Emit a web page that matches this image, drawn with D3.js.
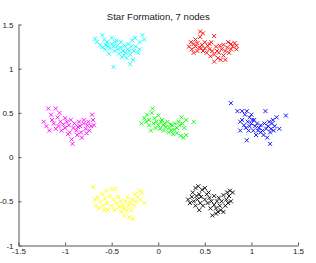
<!DOCTYPE html>
<html>
<head>
<meta charset="utf-8">
<script src="https://cdn.jsdelivr.net/npm/d3@7"></script>
<style>
  body { margin: 0; background: #fff; }
  svg text { font-family: "Liberation Sans", Arial, sans-serif; fill: #222; }
  .axis path, .axis line { stroke: #555; }
</style>
</head>
<body>
<svg id="chart"></svg>
<script>
const width = 316,
    height = 263;

const margin = {top: 24.5, right: 18, bottom: 17.5, left: 18.5}

const title = "Star Formation, 7 nodes";

const xTicks = [-1.5, -1, -0.5, 0, 0.5, 1, 1.5],
    xTickLabels = ["-1.5", "-1", "-0.5", "0", "0.5", "1", "1.5"];
const yTicks = [-1, -0.5, 0, 0.5, 1, 1.5],
    yTickLabels = ["-1", "-0.5", "0", "0.5", "1", "1.5"];

const nodeColors = ["#00ffff", "#ff0000", "#ff00ff", "#00ff00", "#0000ff", "#ffff00", "#000000"];

// points, one array per node
const cyanNode = [[-0.68,1.34],[-0.66,1.3],[-0.6,1.38],[-0.58,1.33],[-0.62,1.27],[-0.6,1.24],[-0.57,1.22],[-0.55,1.3],[-0.54,1.26],[-0.52,1.23],[-0.5,1.28],[-0.5,1.35],[-0.48,1.25],[-0.47,1.2],[-0.46,1.3],[-0.44,1.26],[-0.43,1.22],[-0.42,1.17],[-0.4,1.24],[-0.4,1.3],[-0.38,1.2],[-0.37,1.15],[-0.36,1.26],[-0.35,1.18],[-0.34,1.12],[-0.33,1.22],[-0.32,1.28],[-0.3,1.16],[-0.3,1.05],[-0.29,1.25],[-0.28,1.32],[-0.27,1.1],[-0.26,1.2],[-0.25,1.35],[-0.24,1.25],[-0.22,1.18],[-0.2,1.3],[-0.2,1.22],[-0.17,1.38],[-0.15,1.33],[-0.48,1.02],[-0.53,1.17],[-0.45,1.32],[-0.56,1.27],[-0.39,1.13],[-0.31,1.2]];
const redNode = [[0.33,1.25],[0.35,1.3],[0.36,1.22],[0.38,1.28],[0.38,1.18],[0.4,1.25],[0.4,1.33],[0.42,1.2],[0.42,1.29],[0.44,1.24],[0.45,1.42],[0.45,1.36],[0.47,1.27],[0.48,1.4],[0.48,1.2],[0.5,1.23],[0.5,1.3],[0.52,1.18],[0.53,1.26],[0.55,1.22],[0.56,1.14],[0.57,1.3],[0.58,1.2],[0.6,1.37],[0.6,1.16],[0.6,1.08],[0.62,1.25],[0.63,1.2],[0.64,1.12],[0.65,1.18],[0.66,1.26],[0.67,1.1],[0.68,1.22],[0.7,1.15],[0.7,1.27],[0.72,1.2],[0.72,1.1],[0.74,1.24],[0.75,1.3],[0.76,1.18],[0.78,1.28],[0.78,1.22],[0.8,1.25],[0.82,1.29],[0.84,1.22],[0.84,1.26],[0.55,1.28],[0.46,1.23]];
const magentaNode = [[-1.23,0.4],[-1.2,0.35],[-1.18,0.55],[-1.17,0.3],[-1.15,0.48],[-1.14,0.42],[-1.12,0.38],[-1.1,0.55],[-1.1,0.32],[-1.08,0.45],[-1.07,0.35],[-1.05,0.4],[-1.04,0.3],[-1.02,0.37],[-1.0,0.44],[-1.0,0.33],[-0.98,0.4],[-0.96,0.36],[-0.95,0.28],[-0.94,0.42],[-0.93,0.2],[-0.92,0.15],[-0.91,0.33],[-0.9,0.38],[-0.88,0.3],[-0.87,0.25],[-0.85,0.4],[-0.84,0.35],[-0.83,0.28],[-0.82,0.22],[-0.8,0.38],[-0.8,0.42],[-0.78,0.32],[-0.77,0.27],[-0.76,0.36],[-0.75,0.4],[-0.74,0.3],[-0.72,0.35],[-0.7,0.42],[-0.69,0.36],[-0.71,0.48],[-1.06,0.5],[-0.97,0.26],[-0.86,0.34]];
const greenNode = [[-0.18,0.38],[-0.15,0.44],[-0.12,0.48],[-0.1,0.36],[-0.1,0.42],[-0.08,0.3],[-0.07,0.5],[-0.06,0.55],[-0.05,0.38],[-0.04,0.44],[-0.03,0.33],[-0.02,0.4],[0.0,0.36],[0.0,0.47],[0.02,0.32],[0.03,0.4],[0.05,0.36],[0.06,0.3],[0.07,0.38],[0.08,0.34],[0.1,0.4],[0.11,0.28],[0.12,0.33],[0.14,0.3],[0.15,0.36],[0.16,0.26],[0.17,0.31],[0.18,0.38],[0.2,0.33],[0.2,0.27],[0.22,0.4],[0.23,0.36],[0.24,0.24],[0.25,0.45],[0.26,0.38],[0.27,0.22],[0.28,0.33],[0.3,0.42],[0.3,0.25],[0.38,0.4],[-0.13,0.4],[0.04,0.42],[0.13,0.37]];
const blueNode = [[0.78,0.61],[0.85,0.52],[0.88,0.4],[0.88,0.3],[0.9,0.52],[0.9,0.42],[0.92,0.36],[0.93,0.48],[0.94,0.33],[0.95,0.52],[0.95,0.19],[0.96,0.4],[0.98,0.45],[0.98,0.35],[1.0,0.38],[1.0,0.48],[1.02,0.3],[1.03,0.42],[1.04,0.35],[1.05,0.25],[1.06,0.38],[1.07,0.3],[1.08,0.33],[1.1,0.28],[1.1,0.36],[1.12,0.3],[1.13,0.25],[1.14,0.38],[1.15,0.52],[1.16,0.32],[1.17,0.22],[1.18,0.35],[1.19,0.4],[1.2,0.28],[1.2,0.15],[1.21,0.32],[1.22,0.38],[1.23,0.42],[1.24,0.3],[1.25,0.35],[1.27,0.45],[1.3,0.32],[1.37,0.47],[1.01,0.42],[0.97,0.3]];
const yellowNode = [[-0.7,-0.34],[-0.68,-0.48],[-0.67,-0.55],[-0.65,-0.45],[-0.64,-0.58],[-0.62,-0.5],[-0.6,-0.42],[-0.59,-0.55],[-0.57,-0.47],[-0.56,-0.38],[-0.55,-0.52],[-0.54,-0.6],[-0.52,-0.44],[-0.5,-0.36],[-0.5,-0.55],[-0.48,-0.48],[-0.47,-0.6],[-0.45,-0.52],[-0.43,-0.45],[-0.42,-0.56],[-0.4,-0.5],[-0.4,-0.62],[-0.38,-0.55],[-0.37,-0.58],[-0.36,-0.66],[-0.35,-0.5],[-0.34,-0.6],[-0.33,-0.45],[-0.32,-0.55],[-0.31,-0.68],[-0.3,-0.52],[-0.29,-0.6],[-0.28,-0.48],[-0.27,-0.7],[-0.26,-0.55],[-0.25,-0.42],[-0.24,-0.5],[-0.22,-0.45],[-0.2,-0.38],[-0.19,-0.48],[-0.17,-0.4],[-0.15,-0.52],[-0.46,-0.36],[-0.58,-0.6]];
const blackNode = [[0.32,-0.48],[0.34,-0.52],[0.36,-0.45],[0.37,-0.4],[0.38,-0.5],[0.4,-0.35],[0.4,-0.55],[0.41,-0.44],[0.42,-0.48],[0.43,-0.33],[0.44,-0.42],[0.45,-0.52],[0.46,-0.45],[0.47,-0.37],[0.48,-0.55],[0.5,-0.35],[0.5,-0.48],[0.52,-0.42],[0.53,-0.52],[0.55,-0.46],[0.56,-0.58],[0.57,-0.5],[0.58,-0.66],[0.6,-0.54],[0.6,-0.44],[0.62,-0.58],[0.63,-0.5],[0.64,-0.62],[0.65,-0.46],[0.66,-0.55],[0.67,-0.6],[0.68,-0.5],[0.7,-0.62],[0.7,-0.43],[0.72,-0.55],[0.73,-0.48],[0.74,-0.4],[0.75,-0.52],[0.76,-0.44],[0.77,-0.38],[0.78,-0.5],[0.8,-0.4],[0.62,-0.64],[0.44,-0.6],[0.54,-0.4]];

const nodes = [cyanNode, redNode, magentaNode, greenNode, blueNode, yellowNode, blackNode];

const innerW = width - margin.left - margin.right,
    innerH = height - margin.top - margin.bottom;

let svg = d3.select("#chart").attr("width", width).attr("height", height);

let xScale = d3.scaleLinear().domain([-1.5, 1.5]).range([0, innerW]);
let yScale = d3.scaleLinear().domain([-1, 1.5]).range([innerH, 0]);

let g = svg.append("g").attr("transform", `translate(${margin.left},${margin.top})`);

// title
svg.append("text")
    .attr("x", margin.left + innerW / 2)
    .attr("y", 19.5)
    .attr("text-anchor", "middle")
    .style("font-size", "9.6px")
    .text(title);

// axes, ticks pointing inward like matlab
let xAxis = g.append("g").attr("class", "axis")
    .attr("transform", `translate(0,${innerH})`)
    .call(d3.axisBottom(xScale).tickValues(xTicks)
        .tickFormat((d, i) => xTickLabels[i]).tickSizeInner(-3).tickSizeOuter(0).tickPadding(4));
let yAxis = g.append("g").attr("class", "axis")
    .call(d3.axisLeft(yScale).tickValues(yTicks)
        .tickFormat((d, i) => yTickLabels[i]).tickSizeInner(-3).tickSizeOuter(0).tickPadding(5));

svg.selectAll(".axis text").style("font-size", "8px").attr("fill", "#222");
xAxis.selectAll("text").attr("dy", "0.55em");

// markers
const m = 2;
nodes.forEach((pts, i) => {
    g.append("g").selectAll("path").data(pts).enter().append("path")
        .attr("d", d => {
            let cx = xScale(d[0]), cy = yScale(d[1]);
            return `M${cx-m},${cy-m}L${cx+m},${cy+m}M${cx-m},${cy+m}L${cx+m},${cy-m}`;
        })
        .attr("stroke", nodeColors[i])
        .attr("stroke-width", 0.9)
        .attr("fill", "none");
});
</script>
</body>
</html>
